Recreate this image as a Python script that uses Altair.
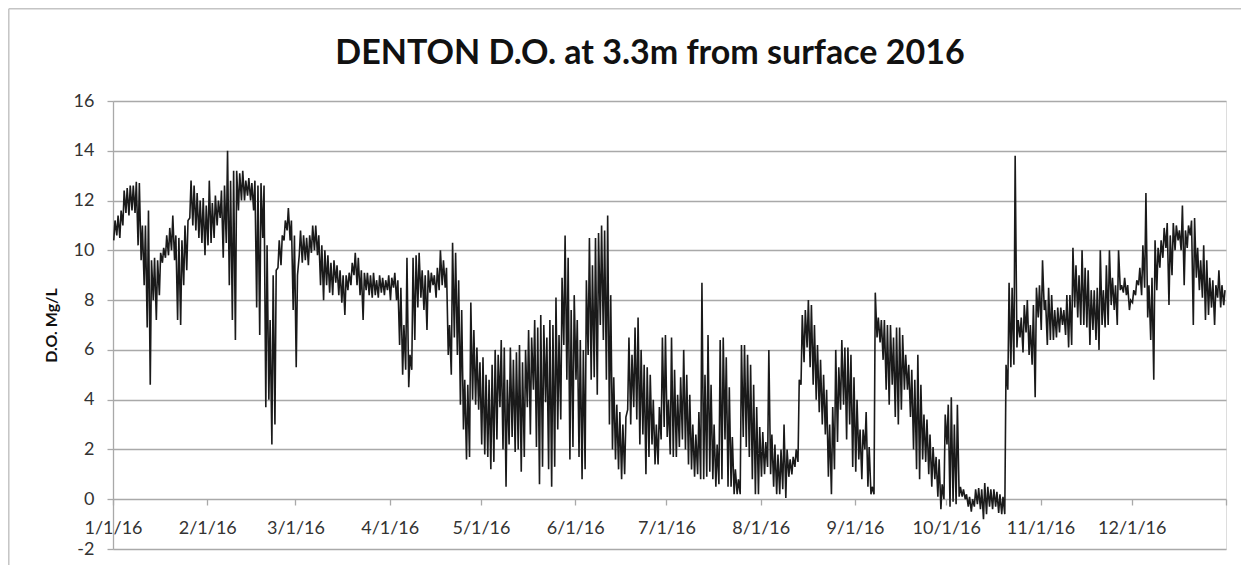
import altair as alt
import pandas as pd

# Daily extremes of dissolved oxygen (mg/L), day 0 = 1/1/16 ... day 365 = 12/31/16
day_high = [
    11.2, 11.4, 11.6, 12.4, 12.5, 12.6, 12.6, 12.75, 12.7, 11.0,
    11.0, 11.6, 9.6, 9.7, 9.6, 9.9, 10.1, 10.6, 10.9, 11.4,
    10.6, 10.5, 10.4, 11.0, 11.2, 12.8, 12.6, 12.3, 12.0, 12.1,
    11.8, 12.8, 11.9, 12.2, 12.0, 12.4, 12.6, 14.0, 12.8, 13.2,
    13.2, 13.1, 13.2, 12.8, 12.9, 12.7, 12.8, 12.6, 12.7, 12.6,
    10.2, 7.2, 9.0, 9.2, 10.4, 10.6, 11.2, 11.7, 11.2, 10.6,
    9.0, 10.8, 10.6, 10.5, 10.6, 11.0, 11.0, 10.6, 10.2, 10.0,
    9.8, 9.5, 9.6, 9.4, 9.2, 9.0, 9.0, 9.1, 9.5, 9.9,
    9.7, 9.2, 9.1, 9.1, 9.0, 9.1, 8.8, 9.0, 8.9, 8.8,
    9.0, 8.9, 9.1, 8.8, 8.5, 7.0, 9.7, 5.8, 9.7, 9.8,
    9.9, 9.2, 9.0, 9.2, 9.1, 9.0, 9.3, 10.0, 9.6, 9.3,
    7.0, 10.3, 9.9, 8.8, 7.6, 4.8, 4.6, 7.9, 6.8, 6.1,
    5.5, 5.7, 5.0, 4.8, 5.4, 6.0, 5.8, 6.4, 6.1, 4.8,
    6.1, 5.6, 5.9, 6.2, 5.5, 6.0, 6.8, 6.5, 7.2, 6.9,
    7.4, 7.0, 6.5, 7.2, 7.0, 8.1, 6.6, 8.9, 10.6, 9.7,
    7.6, 8.2, 7.2, 6.4, 6.0, 8.8, 10.5, 9.4, 10.5, 10.7,
    11.0, 10.8, 11.4, 8.2, 4.9, 3.8, 3.5, 3.0, 3.3, 6.5,
    5.8, 6.9, 7.3, 6.0, 5.4, 5.3, 5.0, 4.0, 3.0, 3.7,
    6.5, 6.6, 4.0, 6.5, 5.2, 4.2, 4.9, 6.0, 5.0, 4.2,
    3.0, 2.6, 3.5, 8.7, 5.0, 6.6, 4.6, 3.0, 2.2, 6.4,
    6.5, 5.7, 4.5, 2.5, 1.2, 0.8, 6.2, 6.2, 5.8, 5.4,
    4.6, 3.7, 2.9, 2.7, 2.3, 6.0, 2.6, 2.2, 1.8, 2.0,
    3.0, 2.0, 1.6, 1.7, 2.0, 4.8, 7.4, 7.6, 8.0, 7.8,
    7.0, 6.2, 5.6, 5.0, 4.4, 3.0, 3.7, 6.0, 5.3, 6.4,
    6.1, 6.1, 5.8, 4.9, 4.0, 2.8, 2.8, 3.5, 2.1, 0.5,
    8.3, 7.3, 7.2, 7.2, 7.0, 7.0, 6.5, 6.9, 6.9, 6.6,
    5.8, 5.4, 5.2, 4.8, 5.8, 4.6, 3.4, 3.2, 2.6, 2.1,
    1.7, 1.6, 0.6, 3.4, 3.8, 4.1, 3.0, 3.8, 0.5, 0.4,
    0.2, 0.1, 0.0, 0.4, 0.45, 0.4, 0.65, 0.5, 0.4, 0.4,
    0.3, 0.2, 0.1, 5.4, 8.7, 8.5, 13.8, 7.2, 7.3, 7.8,
    8.0, 7.0, 7.8, 8.5, 8.6, 9.6, 8.0, 8.5, 8.2, 7.6,
    7.7, 7.7, 7.6, 8.2, 8.2, 10.1, 9.4, 9.0, 10.0, 9.3,
    9.2, 8.4, 8.4, 8.5, 10.0, 8.4, 9.4, 10.0, 8.9, 8.6,
    10.0, 8.6, 8.9, 8.6, 8.0, 8.4, 8.8, 9.3, 10.2, 12.3,
    8.6, 8.9, 10.4, 10.1, 10.4, 10.9, 11.1, 10.6, 11.1, 11.0,
    10.8, 11.8, 10.8, 11.0, 11.2, 11.3, 10.1, 9.6, 10.2, 9.6,
    8.9, 8.8, 8.6, 9.2, 8.6, 8.4,
]

day_low = [
    10.4, 10.6, 10.5, 11.0, 11.5, 11.4, 11.6, 11.5, 10.2, 9.6,
    8.6, 6.9, 4.6, 8.0, 7.2, 8.2, 9.5, 9.7, 9.8, 10.0,
    9.6, 7.2, 7.0, 8.6, 9.2, 11.3, 11.0, 10.8, 10.5, 10.3,
    9.8, 10.2, 10.3, 10.5, 11.0, 11.3, 9.7, 10.3, 8.6, 7.2,
    6.4, 11.6, 12.0, 12.0, 12.2, 12.0, 11.6, 7.7, 6.6, 10.5,
    3.7, 4.0, 2.2, 3.0, 9.3, 9.4, 10.4, 10.8, 10.4, 7.6,
    5.3, 9.8, 9.5, 9.6, 9.4, 9.9, 10.0, 9.8, 8.6, 8.0,
    8.6, 8.3, 8.2, 8.7, 8.2, 7.9, 7.4, 8.4, 8.6, 9.0,
    8.6, 8.2, 7.2, 8.4, 8.2, 8.1, 8.2, 8.1, 8.3, 8.2,
    8.4, 8.0, 8.5, 8.0, 6.2, 5.0, 5.2, 4.5, 5.2, 6.4,
    7.7, 8.1, 7.6, 6.8, 8.3, 8.6, 8.1, 8.4, 8.6, 8.5,
    5.8, 5.0, 6.5, 5.8, 3.8, 2.8, 1.6, 1.7, 4.0, 3.8,
    3.6, 2.2, 1.8, 1.7, 1.2, 1.5, 2.4, 3.7, 2.0, 0.5,
    2.2, 2.5, 1.9, 2.0, 1.1, 1.7, 3.7, 2.6, 4.4, 2.1,
    0.6, 1.3, 3.9, 1.2, 0.5, 1.3, 2.8, 3.2, 6.2, 4.8,
    1.6, 2.1, 4.8, 1.7, 0.8, 1.2, 5.8, 4.8, 4.9, 4.2,
    7.0, 6.4, 4.8, 3.0, 2.0, 1.6, 1.2, 0.8, 1.0, 3.6,
    3.0, 3.7, 3.2, 2.2, 2.6, 1.0, 1.7, 2.2, 1.4, 1.4,
    2.4, 2.9, 2.5, 1.8, 1.7, 1.7, 2.1, 2.4, 2.0, 1.4,
    1.2, 0.9, 1.0, 0.8, 0.8, 0.9, 1.1, 0.8, 0.5, 0.6,
    0.8, 2.4, 0.5, 0.5, 0.2, 0.2, 0.2, 2.5, 2.1, 1.7,
    0.8, 0.2, 0.2, 0.9, 1.0, 1.3, 1.0, 0.5, 0.2, 0.2,
    0.4, 0.05, 0.9, 1.0, 1.3, 1.5, 4.6, 5.5, 6.1, 5.3,
    4.6, 4.0, 3.5, 3.0, 2.6, 0.9, 0.2, 1.2, 2.3, 3.6,
    3.8, 2.4, 3.0, 1.3, 1.1, 1.6, 0.8, 2.0, 0.5, 0.2,
    0.2, 6.5, 6.3, 5.6, 4.4, 3.8, 4.6, 3.3, 3.0, 3.6,
    4.4, 4.4, 3.3, 2.0, 1.2, 0.8, 1.6, 1.5, 1.0, 0.5,
    0.8, 0.1, -0.4, 0.0, 2.2, -0.3, -0.1, -0.2, 0.1, 0.1,
    0.0, -0.3, -0.5, -0.3, -0.2, -0.4, -0.8, -0.6, -0.3, -0.4,
    -0.3, -0.55, -0.6, -0.6, 4.4, 5.3, 5.4, 6.1, 6.5, 5.9,
    6.7, 5.8, 5.4, 4.1, 7.3, 6.8, 7.6, 6.2, 6.4, 6.4,
    6.5, 6.7, 7.0, 6.6, 6.1, 6.2, 7.7, 7.3, 7.0, 7.0,
    6.9, 6.2, 6.8, 6.4, 6.0, 7.0, 6.9, 7.0, 7.8, 7.6,
    7.0, 8.4, 8.3, 8.2, 7.6, 7.9, 8.2, 8.6, 8.2, 8.5,
    7.3, 6.4, 4.8, 8.4, 9.3, 9.7, 10.1, 7.8, 9.0, 10.0,
    10.4, 10.0, 8.6, 10.1, 10.6, 7.0, 8.9, 8.4, 8.1, 7.2,
    7.4, 7.7, 7.0, 8.1, 7.7, 7.8,
]

title_text = "DENTON D.O. at 3.3m from surface 2016"
y_title = "D.O. Mg/L"
y_ticks = [-2, 0, 2, 4, 6, 8, 10, 12, 14, 16]

base = pd.Timestamp("2016-01-01")
rows = []
for d, (lo, hi) in enumerate(zip(day_low, day_high)):
    day = base + pd.Timedelta(days=d)
    rows.append({"t": (day + pd.Timedelta(hours=6)).strftime("%Y-%m-%dT%H:%M:%S"), "v": lo})
    rows.append({"t": (day + pd.Timedelta(hours=16)).strftime("%Y-%m-%dT%H:%M:%S"), "v": hi})
df = pd.DataFrame(rows)

FONT = "Lato"
GRID = "#a9a9a9"

month_ticks = [alt.DateTime(year=2016, month=m, date=1) for m in range(1, 13)] + [
    alt.DateTime(year=2017, month=1, date=1)
]

line = alt.Chart(df).mark_line(color="#1a1a1a", strokeWidth=1.6).encode(
    x=alt.X(
        "t:T",
        scale=alt.Scale(
            domain=[alt.DateTime(year=2016, month=1, date=1), alt.DateTime(year=2017, month=1, date=1)],
            nice=False,
        ),
        axis=alt.Axis(
            title=None,
            values=month_ticks,
            labelExpr="year(datum.value) > 2016 ? '' : timeFormat(datum.value, '%-m/%-d/%y')",
            offset=-50,
            grid=False,
            domain=False,
            tickColor=GRID,
            tickWidth=1.3,
            tickSize=6,
            labelFont=FONT,
            labelFontSize=18,
            labelColor="#333333",
            labelPadding=14,
            labelFlush=False,
            labelOverlap=False,
        ),
    ),
    y=alt.Y(
        "v:Q",
        scale=alt.Scale(domain=[-2, 16], nice=False, zero=False),
        axis=alt.Axis(
            title=y_title,
            values=y_ticks,
            labelExpr="replace(datum.label, '\u2212', '-')",
            grid=True,
            gridColor=GRID,
            gridWidth=1.3,
            domainColor=GRID,
            domainWidth=1.3,
            tickColor=GRID,
            tickWidth=1.3,
            tickSize=6,
            labelFont=FONT,
            labelFontSize=18,
            labelColor="#333333",
            labelPadding=13,
            titleFont=FONT,
            titleFontSize=16,
            titleFontWeight="bold",
            titleColor="#111111",
            titlePadding=14,
        ),
    ),
)

one = pd.DataFrame({"label": [title_text]})

frame = alt.Chart(one).mark_rule(color="#c4c4c4", strokeWidth=1.5).encode(
    x=alt.value(-104.2), x2=alt.value(-104.2), y=alt.value(-92.2), y2=alt.value(470)
)
frame_top = alt.Chart(one).mark_rule(color="#c4c4c4", strokeWidth=1.5).encode(
    x=alt.value(-104.2), x2=alt.value(1128), y=alt.value(-92.2), y2=alt.value(-92.2)
)
title = alt.Chart(one).mark_text(
    font=FONT, fontSize=34, fontWeight="bold", color="#111111",
    align="center", baseline="alphabetic",
).encode(text="label:N", x=alt.value(537), y=alt.value(-37))

chart = (
    alt.layer(frame, frame_top, title, line)
    .properties(
        width=1113,
        height=448,
        autosize=alt.AutoSizeParams(type="none"),
        padding={"left": 105, "top": 93, "right": 16, "bottom": 16},
    )
    .configure_view(strokeWidth=0)
    .configure(background="white")
)

chart.save("out.html", embed_options={"renderer": "svg", "actions": False})
